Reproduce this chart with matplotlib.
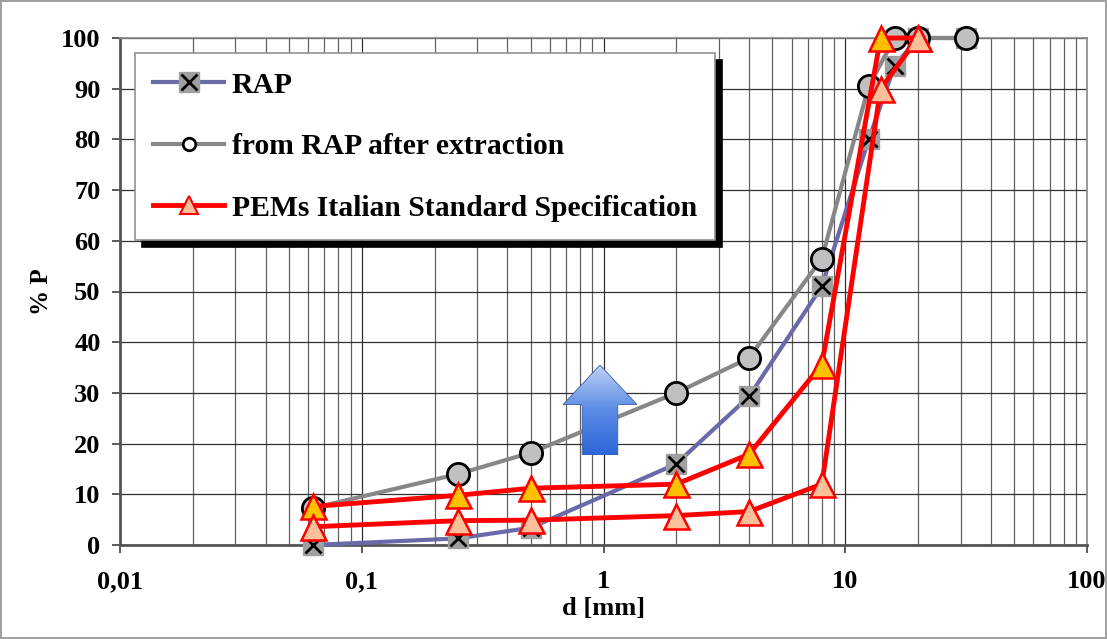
import numpy as np
import matplotlib
matplotlib.use("Agg")
import matplotlib.pyplot as plt
from matplotlib.patches import Polygon
from matplotlib.legend_handler import HandlerTuple
from matplotlib.ticker import LogLocator, NullFormatter

plt.rcParams['font.family'] = ['Liberation Serif', 'DejaVu Serif']
plt.rcParams['font.weight'] = 'bold'

# sieve sizes [mm] and passing [%]
d_rap = [0.063, 0.25, 0.5, 2, 4, 8, 12.5, 16, 20, 31.5]
p_rap = [0, 1.3, 3.4, 16, 29.3, 51, 80, 94.5, 100, 100]

d_ext = [0.063, 0.25, 0.5, 2, 4, 8, 12.5, 16, 20, 31.5]
p_ext = [7.3, 14, 18.2, 30, 36.9, 56.5, 90.5, 100, 100, 100]

d_spec = [0.063, 0.25, 0.5, 2, 4, 8, 14, 20]
p_spec_up = [7.6, 9.8, 11.2, 12, 17.9, 35.6, 100, 100]
p_spec_low = [3.6, 4.8, 4.9, 5.8, 6.6, 12, 90, 100]

x_ticks = [0.01, 0.1, 1, 10, 100]
x_labels = ['0,01', '0,1', '1', '10', '100']
y_ticks = [0, 10, 20, 30, 40, 50, 60, 70, 80, 90, 100]

fig = plt.figure(figsize=(11.07, 6.39), dpi=100)
fig.patch.set_edgecolor('#a0a0a0')
fig.patch.set_linewidth(1.5)
ax = fig.add_axes([120/1107, 94/639, 967/1107, 507/639])

ax.set_xscale('log')
ax.set_xlim(0.01, 100)
ax.set_ylim(0, 100)

# grid
ax.xaxis.set_minor_locator(LogLocator(base=10, subs=np.arange(2, 10)))
ax.xaxis.set_minor_formatter(NullFormatter())
ax.grid(which='major', axis='both', color='#303030', lw=0.9)
ax.grid(which='minor', axis='x', color='#606060', lw=0.9)
ax.set_axisbelow(True)

# RAP
l_rap, = ax.plot(d_rap, p_rap, color='#6a6aa8', lw=3, marker='s', ms=14,
                 mfc='#a0a0a0', mec='#a0a0a0', zorder=3, clip_on=False)
x_rap, = ax.plot(d_rap, p_rap, ls='none', marker='x', ms=11, mec='black',
                 mew=2, zorder=3.1, clip_on=False)

# after extraction
l_ext, = ax.plot(d_ext, p_ext, color='#878787', lw=3, marker='o', ms=16,
                 mfc='#c0c0c0', mec='black', mew=2, zorder=4, clip_on=False)

# specification envelope
l_up, = ax.plot(d_spec, p_spec_up, color='#ff0000', lw=3.5, marker='^', ms=18,
                mfc='#ffc000', mec='#ff0000', mew=1.8, zorder=5, clip_on=False)
l_low, = ax.plot(d_spec, p_spec_low, color='#ff0000', lw=3.5, marker='^', ms=18,
                 mfc='#fbc09a', mec='#ff0000', mew=1.8, zorder=5, clip_on=False)

ax.set_xticks(x_ticks)
ax.set_xticklabels(x_labels)
ax.set_yticks(y_ticks)
ax.tick_params(axis='both', which='major', labelsize=19, length=6, width=1.2,
               color='#404040', pad=8)
ax.tick_params(axis='x', which='minor', length=0)
ax.tick_params(axis='x', which='major', pad=12)
for lab in ax.get_xticklabels() + ax.get_yticklabels():
    lab.set_fontweight('bold')

for s in ['top', 'right']:
    ax.spines[s].set_color('#8a8a8a')
    ax.spines[s].set_linewidth(1.2)
for s in ['left', 'bottom']:
    ax.spines[s].set_color('#555555')
    ax.spines[s].set_linewidth(2)

ax.set_xlabel('d [mm]', fontsize=19, fontweight='bold', labelpad=3)
ax.set_ylabel('% P', fontsize=18, fontweight='bold', labelpad=6)

# legend
h_rap = (l_rap, x_rap)
h_ext, = ax.plot([], [], color='#878787', lw=3, marker='o', ms=9, mfc='white',
                 mec='black', mew=2)
h_spec, = ax.plot([], [], color='#ff0000', lw=3.5, marker='^', ms=13,
                  mfc='#fbc09a', mec='#ff0000', mew=1.5)
leg = ax.legend([h_rap, h_ext, h_spec],
                ['RAP', 'from RAP after extraction', 'PEMs Italian Standard Specification'],
                handler_map={tuple: HandlerTuple(ndivide=1, pad=0)},
                loc='upper left', bbox_to_anchor=(0.0155, 0.97), borderaxespad=0,
                prop={'family': 'Liberation Serif', 'weight': 'bold', 'size': 21.3},
                handlelength=2.4, handletextpad=0.25, labelspacing=1.17,
                borderpad=0.62, fancybox=False, framealpha=1, edgecolor='#909090',
                shadow={'ox': 5, 'oy': -5, 'color': 'black', 'alpha': 1})
leg.get_frame().set_linewidth(1.2)
leg.set_zorder(10)

# blue up arrow with gradient
arrow_ax = fig.add_axes([563/1107, (639-455)/639, 74/1107, 90/639])
arrow_ax.set_xlim(0, 1)
arrow_ax.set_ylim(0, 1)
arrow_ax.axis('off')
shape = Polygon([[0.26, 0], [0.74, 0], [0.74, 0.56], [1, 0.56], [0.5, 1],
                 [0, 0.56], [0.26, 0.56]], closed=True, facecolor='none',
                edgecolor='#3a5ea8', lw=0.6)
arrow_ax.add_patch(shape)
grad = np.linspace(0, 1, 100).reshape(-1, 1)
cmap = matplotlib.colors.LinearSegmentedColormap.from_list(
    'blu', ['#2d66d8', '#5b8be6', '#bcd0f3'])
im = arrow_ax.imshow(grad, extent=[0, 1, 0, 1], origin='lower', cmap=cmap,
                     aspect='auto')
im.set_clip_path(shape)

fig.savefig('out.png', dpi=100)
